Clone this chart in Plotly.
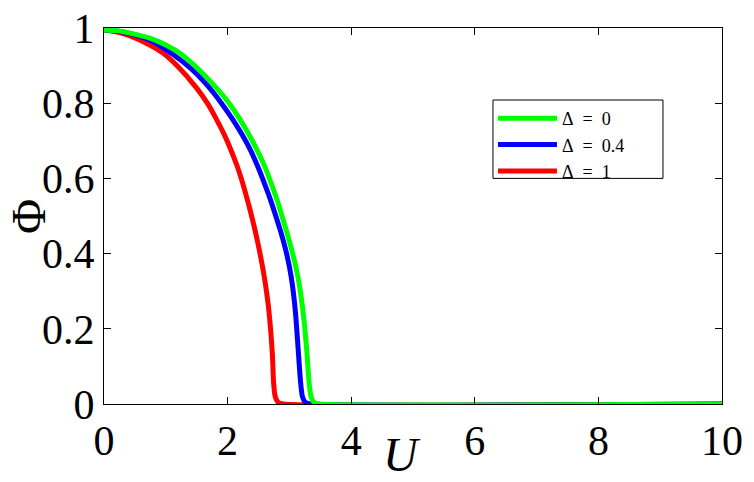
import plotly.graph_objects as go

# Parâmetro de ordem Phi em função de U, para três valores de Delta
u_delta0 = [0, 0.2, 0.4, 0.74, 1.0, 1.23, 1.5, 1.8, 2.0, 2.2, 2.4, 2.5, 2.6, 2.71, 2.8,
            2.88, 2.96, 3.04, 3.1, 3.16, 3.23, 3.28, 3.32, 3.35, 3.4, 3.5, 10]
phi_delta0 = [0.995, 0.993, 0.987, 0.973, 0.955, 0.933, 0.895, 0.844, 0.805, 0.757, 0.700,
              0.668, 0.632, 0.585, 0.543, 0.500, 0.456, 0.408, 0.368, 0.318, 0.232, 0.144,
              0.055, 0.02, 0.004, 0, 0]

u_delta04 = [0, 0.2, 0.4, 0.74, 1.09, 1.4, 1.69, 1.9, 2.09, 2.25, 2.38, 2.5, 2.6, 2.69,
             2.77, 2.86, 2.94, 3.0, 3.05, 3.1, 3.14, 3.18, 3.21, 3.26, 3.35, 10]
phi_delta04 = [0.995, 0.992, 0.986, 0.968, 0.933, 0.893, 0.844, 0.800, 0.755, 0.712, 0.672,
               0.627, 0.585, 0.545, 0.505, 0.458, 0.410, 0.365, 0.315, 0.240, 0.150, 0.060,
               0.02, 0.004, 0, 0]

u_delta1 = [0, 0.2, 0.4, 0.74, 0.96, 1.2, 1.5, 1.68, 1.82, 1.95, 2.05, 2.15, 2.23, 2.3,
            2.37, 2.44, 2.5, 2.56, 2.61, 2.66, 2.7, 2.725, 2.745, 2.77, 2.82, 2.9, 10]
phi_delta1 = [0.995, 0.99, 0.98, 0.955, 0.933, 0.897, 0.840, 0.798, 0.757, 0.715, 0.677,
              0.635, 0.595, 0.555, 0.512, 0.465, 0.420, 0.370, 0.321, 0.260, 0.190, 0.130,
              0.055, 0.02, 0.004, 0, 0]

x_ticks = [0, 2, 4, 6, 8, 10]
y_ticks = [0, 0.2, 0.4, 0.6, 0.8, 1]

FONT = "Liberation Serif"
SP = "\u2002"  # espaço largo em volta do "=", como no LaTeX

fig = go.Figure()

# ordem de desenho: vermelho embaixo, verde por cima
series = [
    (f"Δ{SP}={SP}1", u_delta1, phi_delta1, "#ff0000"),
    (f"Δ{SP}={SP}0.4", u_delta04, phi_delta04, "#0000ff"),
    (f"Δ{SP}={SP}0", u_delta0, phi_delta0, "#00ff00"),
]
for name, u, phi, color in series:
    fig.add_trace(go.Scatter(x=u, y=phi, mode="lines", name=name,
                             line=dict(color=color, width=5, shape="spline", smoothing=0.6)))

axis_style = dict(
    showline=True, linecolor="black", linewidth=1, mirror="ticks",
    ticks="inside", ticklen=7, tickcolor="black", showgrid=False, zeroline=False,
    tickfont=dict(family=FONT, size=42, color="black"), automargin=False,
    ticklabeloverflow="allow",
)

fig.update_xaxes(range=[0, 10], tickvals=x_ticks, **axis_style)
fig.update_yaxes(range=[0, 1], tickvals=y_ticks, **axis_style)

fig.update_layout(
    width=754, height=482,
    margin=dict(l=104, r=32, t=28, b=78),
    paper_bgcolor="white", plot_bgcolor="white",
    legend=dict(
        x=0.6294, y=0.8085, xanchor="left", yanchor="top",
        traceorder="reversed", itemwidth=59,
        bgcolor="rgba(0,0,0,0)", borderwidth=0,
        font=dict(family=FONT, size=18, color="black"),
        tracegroupgap=0,
    ),
    shapes=[
        # moldura da legenda
        dict(type="rect", xref="paper", yref="paper",
             x0=0.6294, x1=0.9045, y0=0.60, y1=0.8085,
             line=dict(color="black", width=1), fillcolor="rgba(0,0,0,0)"),
    ],
    annotations=[
        dict(text="Φ", xref="paper", yref="paper", x=-0.123, y=0.50,
             xanchor="center", yanchor="middle", textangle=-90, showarrow=False,
             font=dict(family=FONT, size=48, color="black")),
        dict(text="<i>U</i>", xref="paper", yref="paper", x=0.482, y=-0.1356,
             xanchor="center", yanchor="middle", showarrow=False,
             font=dict(family=FONT, size=48, color="black")),
    ],
)

# tira a margem padrão do body para a figura ocupar a janela toda
fig.write_html("out.html", config={"displayModeBar": False},
               post_script="document.body.style.margin = '0px';")
